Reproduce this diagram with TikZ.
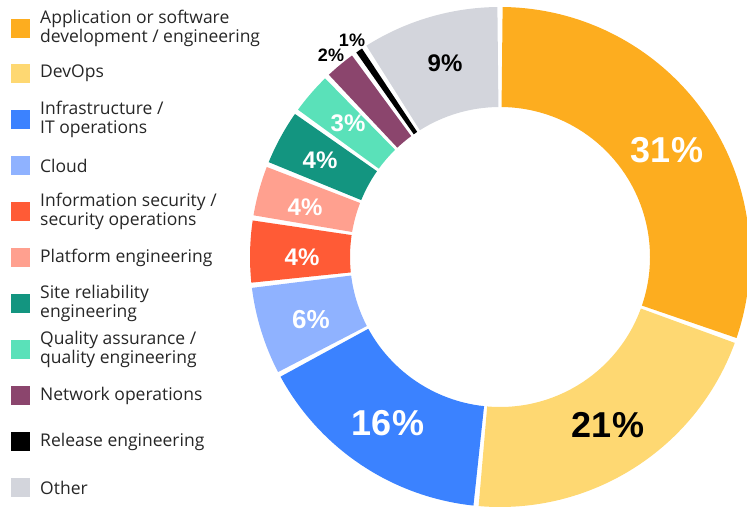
\documentclass[tikz,border=0pt]{standalone}
\usepackage{fontspec}
\setmainfont{Liberation Sans}
\newfontfamily\legfont{Open Sans}
\definecolor{cOrange}{HTML}{FDAD1F}
\definecolor{cYellow}{HTML}{FED872}
\definecolor{cBlue}{HTML}{3B82FF}
\definecolor{cLBlue}{HTML}{8FB2FF}
\definecolor{cRed}{HTML}{FF5B36}
\definecolor{cPink}{HTML}{FFA08F}
\definecolor{cTeal}{HTML}{139580}
\definecolor{cMint}{HTML}{5AE1B9}
\definecolor{cPurple}{HTML}{8B456D}
\definecolor{cBlack}{HTML}{000000}
\definecolor{cGray}{HTML}{D3D5DC}
\definecolor{cText}{HTML}{262626}
\newcommand\dslice[3]{\fill[#3,shift={(500,251)}] (#1:250) arc[start angle=#1, end angle=#2, radius=250] -- (#2:150) arc[start angle=#2, end angle=#1, radius=150] -- cycle;}
\tikzset{
  legsq/.style={minimum width=19pt, minimum height=19pt, inner sep=0pt, outer sep=0pt},
  legtxt/.style={anchor=west, inner sep=0pt, align=left, text=cText, font=\legfont\fontsize{17.5}{18.5}\selectfont},
  pctbig/.style={font=\bfseries\fontsize{36}{36}\selectfont, inner sep=0pt},
  pctmid/.style={font=\bfseries\fontsize{26}{26}\selectfont, inner sep=0pt},
  pctsm/.style={font=\bfseries\fontsize{24}{24}\selectfont, inner sep=0pt},
  pcttiny/.style={font=\bfseries\fontsize{18}{18}\selectfont, inner sep=0pt},
}
\begin{document}
\begin{tikzpicture}[x=1pt,y=1pt]
\useasboundingbox (0,0) rectangle (747,508);
\clip (0,0) rectangle (747,508);
% donut
\dslice{89.4}{-18.9}{cOrange}
\dslice{-20.1}{-94.9}{cYellow}
\dslice{-96.1}{-151.4}{cBlue}
\dslice{-152.6}{-172.9}{cLBlue}
\dslice{-174.1}{-188.4}{cRed}
\dslice{-189.6}{-201.1}{cPink}
\dslice{-202.3}{-214.9}{cTeal}
\dslice{-216.1}{-225.6}{cMint}
\dslice{-226.8}{-233.7}{cPurple}
\dslice{-234.9}{-236.5}{cBlack}
\dslice{-237.7}{-269.4}{cGray}
% percentage labels
\node[pctbig, text=white] (p31) at (667,358) {31\%};
\node[pctbig, text=black] (p21) at (608,83) {21\%};
\node[pctbig, text=white] (p16) at (388,85) {16\%};
\node[pctmid, text=white] (p6) at (311,188) {6\%};
\node[pctsm, text=white] (p4a) at (302,251) {4\%};
\node[pctsm, text=white] (p4b) at (305,301) {4\%};
\node[pctsm, text=white] (p4c) at (320,348) {4\%};
\node[pctsm, text=white] (p3) at (348,385) {3\%};
\node[pctsm, text=black] (p9) at (445,445) {9\%};
\node[pcttiny, text=black] (p2) at (331,453) {2\%};
\node[pcttiny, text=black] (p1) at (352,468) {1\%};
% legend
\node[legsq, fill=cOrange] (s1) at (20.5,479.5) {};
\node[legtxt] (t1) at (40,479.5) {Application or software\\development / engineering};
\node[legsq, fill=cYellow] (s2) at (20.5,434.5) {};
\node[legtxt] (t2) at (40,434.5) {DevOps};
\node[legsq, fill=cBlue] (s3) at (20.5,388.5) {};
\node[legtxt] (t3) at (40,388.5) {Infrastructure /\\IT operations};
\node[legsq, fill=cLBlue] (s4) at (20.5,342.5) {};
\node[legtxt] (t4) at (40,342.5) {Cloud};
\node[legsq, fill=cRed] (s5) at (20.5,296.5) {};
\node[legtxt] (t5) at (40,296.5) {Information security /\\security operations};
\node[legsq, fill=cPink] (s6) at (20.5,250.5) {};
\node[legtxt] (t6) at (40,250.5) {Platform engineering};
\node[legsq, fill=cTeal] (s7) at (20.5,204.5) {};
\node[legtxt] (t7) at (40,204.5) {Site reliability\\engineering};
\node[legsq, fill=cMint] (s8) at (20.5,158.5) {};
\node[legtxt] (t8) at (40,158.5) {Quality assurance /\\quality engineering};
\node[legsq, fill=cPurple] (s9) at (20.5,112.5) {};
\node[legtxt] (t9) at (40,112.5) {Network operations};
\node[legsq, fill=cBlack] (s10) at (20.5,66.5) {};
\node[legtxt] (t10) at (40,66.5) {Release engineering};
\node[legsq, fill=cGray] (s11) at (20.5,20.5) {};
\node[legtxt] (t11) at (40,20.5) {Other};
\end{tikzpicture}
\end{document}
